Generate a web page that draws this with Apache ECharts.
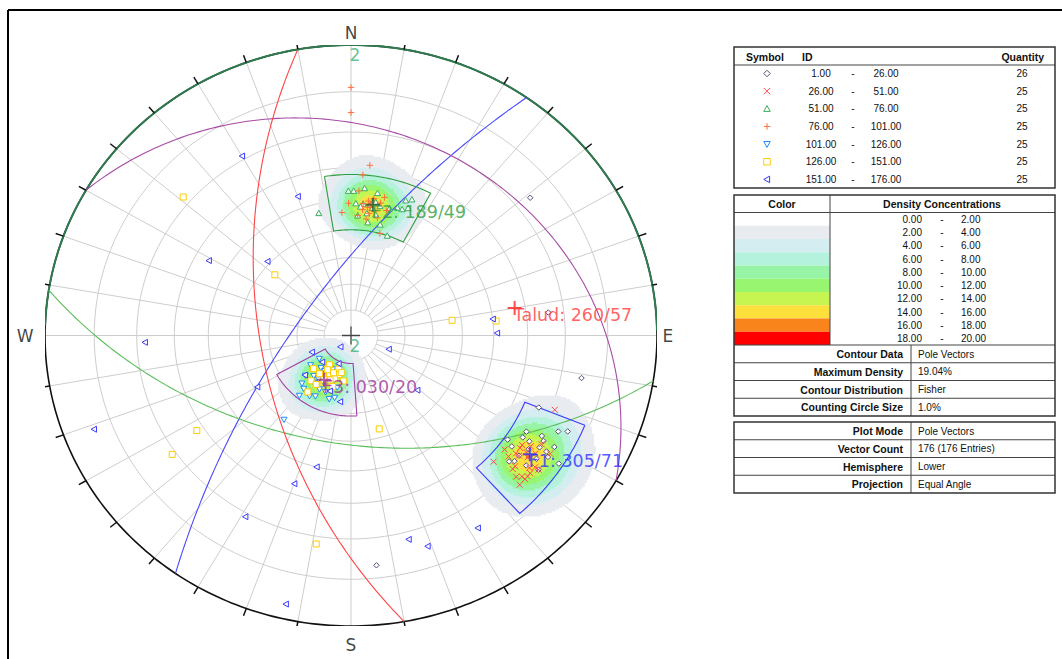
<!DOCTYPE html>
<html>
<head>
<meta charset="utf-8">
<title>Stereonet</title>
<script src="https://cdn.jsdelivr.net/npm/echarts@6/dist/echarts.min.js"></script>
<style>
  html, body { margin: 0; padding: 0; background: #ffffff; }
  #chart { width: 1062px; height: 659px; }
</style>
</head>
<body>
<div id="chart"></div>
<script>
// ---- Pole vectors [trend, plunge] (degrees), grouped by ID range ----
const idFrom = [1, 26, 51, 76, 101, 126, 151];
const idTo = [26, 51, 76, 101, 126, 151, 176];
const quantities = [26, 25, 25, 25, 25, 25, 25];

const poles1 = [[51,16],[83,24],[101,15],[174,13],[112,23],[120,23],[119,19],[115,14],[116,16],[125,26],[122,21],[126,24],[124,20],[122,16],[123,15],[130,22],[129,21],[128,18],[123,12],[122,18],[125,17],[127,21],[120,18],[122,23],[127,15],[120,15]];
const poles2 = [[111,19],[125,22],[127,22],[127,21],[129,23],[133,25],[130,20],[122,15],[132,18],[131,17],[131,16],[130,16],[129,16],[133,16],[125,20],[123,20],[126,19],[124,18],[124,22],[121,18],[131,20],[127,16],[128,17],[128,25],[127,15]];
const poles3 = [[359,37],[1,37],[5,36],[10,37],[8,41],[5,41],[2,41],[9,40],[10,40],[12,41],[4,42],[9,42],[16,41],[21,37],[23,36],[23,39],[21,40],[19,40],[3,45],[8,47],[14,47],[19,50],[346,43],[11,44],[7,44]];
const poles4 = [[0,9],[0,15],[6,29],[4,32],[13,38],[3,37],[356,44],[3,45],[5,41],[8,42],[10,43],[12,40],[11,41],[7,42],[7,46],[15,50],[15,42],[7,40],[9,41],[5,43],[8,41],[9,39],[8,44],[359,41],[12,45]];
const poles5 = [[198,76],[207,75],[221,69],[217,67],[209,69],[209,63],[198,64],[217,50],[206,70],[200,71],[221,73],[209,66],[227,67],[203,66],[194,69],[232,71],[224,64],[232,75],[207,73],[215,69],[215,73],[213,62],[194,65],[219,60],[220,63]];
const poles6 = [[311,18],[310,54],[81,53],[84,39],[237,28],[235,19],[164,53],[215,76],[199,76],[197,74],[208,73],[200,72],[204,71],[220,67],[216,63],[213,74],[194,75],[218,71],[214,67],[210,70],[199,69],[227,71],[189,72],[189,18],[204,74]];
const poles7 = [[330,19],[340,36],[299,34],[313,49],[268,22],[222,84],[111,75],[131,58],[83,40],[89,39],[249,6],[200,33],[209,19],[193,3],[165,18],[148,14],[226,75],[203,78],[194,40],[240,51],[200,67],[228,67],[161,15],[189,64],[246,74]];
const poleGroups = [poles1, poles2, poles3, poles4, poles5, poles6, poles7];

// ---- Planes (dip direction / dip) ----
const planeNames = ['F1', 'F2', 'F3', 'Talud'];
const planeDipDir = [305, 189, 30, 260];
const planeDip = [71, 49, 20, 57];

// ---- Set windows: trend range and plunge range ----
const windowTrendMin = [112, 351, 176];
const windowTrendMax = [138, 388, 241];
const windowPlungeMin = [11, 32, 59];
const windowPlungeMax = [27, 50, 79];

// ---- Density legend ----
const densityLevels = [0, 2, 4, 6, 8, 10, 12, 14, 16, 18, 20];

// ---- Info tables ----
const contourInfoLabels = ['Contour Data', 'Maximum Density', 'Contour Distribution', 'Counting Circle Size'];
const contourInfoValues = ['Pole Vectors', '19.04%', 'Fisher', '1.0%'];
const plotInfoLabels = ['Plot Mode', 'Vector Count', 'Hemisphere', 'Projection'];
const plotInfoValues = ['Pole Vectors', '176 (176 Entries)', 'Lower', 'Equal Angle'];

// ---- Styles ----
// marker outlines in a 10x10 box: [closed, points]
const markerParts = [
  [[true, [[5,0],[10,5],[5,10],[0,5]]]],
  [[false, [[0,0],[10,10]]], [false, [[10,0],[0,10]]]],
  [[true, [[5,0],[10,9],[0,9]]]],
  [[false, [[5,0],[5,10]]], [false, [[0,5],[10,5]]]],
  [[true, [[0,1],[10,1],[5,10]]]],
  [[true, [[0,0],[10,0],[10,10],[0,10]]]],
  [[true, [[0,5],[9,0],[9,10]]]]
];
const symbolPaths = markerParts.map(parts => 'path://' + parts.map(([closed, pts]) =>
  pts.map((p, k) => (k ? 'L' : 'M') + p[0] + ',' + p[1]).join('') + (closed ? 'Z' : '')).join(''));
const symbolColors = ['#5a4f7c', '#ff4a4a', '#38ad5c', '#ff6f3c', '#1f8cff', '#ffcc00', '#3a3aff'];
const symbolFills = ['#ffffff', 'none', '#ffffff', 'none', '#ffffff', '#ffffff', '#ffffff'];
const symbolSizes = [5.5, 6, 6, 6.5, 6, 6, 6];
const densityColors = ['#ffffff', '#e8ecf1', '#d3edf0', '#b5f2dd', '#97f4a6', '#97f56f', '#c6f551', '#fde03c', '#fa841c', '#ff0000'];
const planeColors = ['#4848ff', '#5cbf5c', '#a64ca6', '#ff4444'];
const labelColors = ['#2f2fff', '#2e9e3e', '#993399', '#ff3b3b'];
const poleMarkColors = ['#2f2fff', '#1f5f2f', '#993399', '#ff2020'];
const windowColors = ['#3b3bff', '#2e9e3e', '#a040a0'];

const D = Math.PI / 180;
const FONT = '"DejaVu Sans", Verdana, sans-serif';
const TABLE_FONT = '"Liberation Sans", Arial, sans-serif';

// equal-angle projection, lower hemisphere
function project(trend, plunge) {
  const r = Math.tan((90 - plunge) / 2 * D);
  return [r * Math.sin(trend * D), r * Math.cos(trend * D)];
}
function projectVector(v) {
  const z = Math.max(-1, Math.min(1, v[2]));
  const plunge = Math.asin(Math.max(0, z)) / D;
  const trend = Math.atan2(v[0], v[1]) / D;
  return project(trend, plunge);
}
function greatCircle(dipDir, dip) {
  const s = [Math.sin((dipDir - 90) * D), Math.cos((dipDir - 90) * D), 0];
  const d = [Math.cos(dip * D) * Math.sin(dipDir * D), Math.cos(dip * D) * Math.cos(dipDir * D), Math.sin(dip * D)];
  const pts = [];
  for (let t = 0; t <= 180; t += 1) {
    const c = Math.cos(t * D), sn = Math.sin(t * D);
    pts.push(projectVector([s[0] * c + d[0] * sn, s[1] * c + d[1] * sn, s[2] * c + d[2] * sn]));
  }
  return pts;
}
function ring(r, t0, t1) {
  const pts = [];
  for (let t = t0; t <= t1 + 1e-9; t += 1) pts.push([r * Math.sin(t * D), r * Math.cos(t * D)]);
  return pts;
}
function windowOutline(i) {
  const pts = [];
  const a = windowTrendMin[i], b = windowTrendMax[i];
  for (let t = a; t <= b; t += 1) pts.push(project(t, windowPlungeMin[i]));
  for (let t = b; t >= a; t -= 1) pts.push(project(t, windowPlungeMax[i]));
  pts.push(project(a, windowPlungeMin[i]));
  return pts;
}

// ---- Fisher density of the pole vectors ----
const KAPPA = 85;
const poleVecs = [];
poleGroups.forEach(g => g.forEach(([t, p]) => {
  poleVecs.push([Math.cos(p * D) * Math.sin(t * D), Math.cos(p * D) * Math.cos(t * D), Math.sin(p * D)]);
}));
const NV = poleVecs.length;
function densityAt(x, y) {
  const r = Math.hypot(x, y);
  const pl = Math.PI / 2 - 2 * Math.atan(r);
  const h = Math.cos(pl);
  const vx = r > 0 ? h * x / r : 0, vy = r > 0 ? h * y / r : 0, vz = Math.sin(pl);
  let s = 0;
  for (let k = 0; k < NV; k++) {
    const q = poleVecs[k];
    const c = Math.abs(vx * q[0] + vy * q[1] + vz * q[2]);
    if (c > 0.88) s += Math.exp(KAPPA * (c - 1));
  }
  return KAPPA * s / NV;
}
const STEP = 0.006;
const densityRuns = [];
for (let y = -1 + STEP / 2; y < 1; y += STEP) {
  let cur = 0, x0 = 0;
  for (let x = -1 + STEP / 2; x < 1 + 2 * STEP; x += STEP) {
    let band = 0;
    if (x < 1 && x * x + y * y <= 1) band = Math.min(9, Math.floor(densityAt(x, y) / 2));
    if (band !== cur) {
      if (cur > 0) densityRuns.push([x0 - STEP / 2, x - STEP / 2, y - STEP / 2, y + STEP / 2, cur]);
      cur = band; x0 = x;
    }
  }
}

// ---- Grid lines ----
const gridLines = [];
for (let p = 80; p >= 10; p -= 10) gridLines.push(ring(Math.tan((90 - p) / 2 * D), 0, 360));
const r0 = Math.tan(5 * D);
for (let t = 0; t < 360; t += 10) {
  if (t % 90 === 0) continue;
  gridLines.push([[r0 * Math.sin(t * D), r0 * Math.cos(t * D)], [Math.sin(t * D), Math.cos(t * D)]]);
}
gridLines.push([[0, -1], [0, 1]]);
gridLines.push([[-1, 0], [1, 0]]);

const tickLines = [];
for (let t = 0; t < 360; t += 10) {
  tickLines.push([[Math.sin(t * D), Math.cos(t * D)], [1.027 * Math.sin(t * D), 1.027 * Math.cos(t * D)]]);
}

// ---- Table graphics ----
const G = [];
function txt(x, y, s, o) {
  G.push({ type: 'text', x: x, y: y, silent: true, z: 10,
    style: Object.assign({ text: s, fill: '#111', fontFamily: TABLE_FONT, fontSize: 10, align: 'left', verticalAlign: 'middle' }, o || {}) });
}
const BOLD = { fontWeight: 'bold', fontSize: 10.5 };
function hline(x1, x2, y, w, c) { G.push({ type: 'line', silent: true, z: 10, shape: { x1: x1, y1: y, x2: x2, y2: y }, style: { stroke: c || '#555', lineWidth: w || 1 } }); }
function vline(x, y1, y2, w, c) { G.push({ type: 'line', silent: true, z: 10, shape: { x1: x, y1: y1, x2: x, y2: y2 }, style: { stroke: c || '#555', lineWidth: w || 1 } }); }
function box(x, y, w, h) { G.push({ type: 'rect', silent: true, z: 11, shape: { x: x, y: y, width: w, height: h }, style: { fill: null, stroke: '#333', lineWidth: 1.5 } }); }
function icon(i, cx, cy, size) {
  const k = size / 10;
  markerParts[i].forEach(([closed, pts]) => {
    const p = pts.map(q => [cx - size / 2 + q[0] * k, cy - size / 2 + q[1] * k]);
    G.push({ type: closed ? 'polygon' : 'polyline', silent: true, z: 10, shape: { points: p },
      style: { fill: closed ? symbolFills[i] : null, stroke: symbolColors[i], lineWidth: 1 } });
  });
}

// page frame
hline(8, 1062, 10, 2, '#000');
vline(8, 10, 659, 2, '#000');

// symbol table
const TX0 = 734, TX1 = 1055;
box(TX0, 47, TX1 - TX0, 141);
hline(TX0, TX1, 65, 1, '#444');
txt(765, 56.5, 'Symbol', Object.assign({ align: 'center' }, BOLD));
txt(802, 56.5, 'ID', BOLD);
txt(1044, 56.5, 'Quantity', Object.assign({ align: 'right' }, BOLD));
for (let i = 0; i < idFrom.length; i++) {
  const yc = 73.5 + i * 17.65;
  icon(i, 767, yc, 6.5);
  txt(821, yc, idFrom[i].toFixed(2), { align: 'center' });
  txt(853, yc, '-', { align: 'center' });
  txt(886, yc, idTo[i].toFixed(2), { align: 'center' });
  txt(1022, yc, String(quantities[i]), { align: 'center' });
}

// density table
box(TX0, 195, TX1 - TX0, 221);
hline(TX0, TX1, 212.5, 1, '#444');
vline(830, 195, 345, 1, '#444');
txt(782, 203.5, 'Color', Object.assign({ align: 'center' }, BOLD));
txt(942, 203.5, 'Density Concentrations', Object.assign({ align: 'center' }, BOLD));
for (let i = 0; i < densityColors.length; i++) {
  const y0 = 212.5 + i * 13.25;
  G.push({ type: 'rect', silent: true, z: 9, shape: { x: TX0, y: y0, width: 830 - TX0, height: 13.25 }, style: { fill: densityColors[i] } });
  txt(922, y0 + 6.8, densityLevels[i].toFixed(2), { align: 'right' });
  txt(942, y0 + 6.8, '-', { align: 'center' });
  txt(961, y0 + 6.8, densityLevels[i + 1].toFixed(2), { align: 'left' });
}
hline(TX0, TX1, 345, 1, '#444');
vline(911, 345, 416, 1, '#444');
for (let i = 0; i < contourInfoLabels.length; i++) {
  const y0 = 345 + i * 17.75;
  if (i > 0) hline(TX0, TX1, y0, 1, '#444');
  txt(903, y0 + 9, contourInfoLabels[i], Object.assign({ align: 'right' }, BOLD));
  txt(918, y0 + 9, contourInfoValues[i]);
}

// plot info table
box(TX0, 422, TX1 - TX0, 71);
vline(911, 422, 493, 1, '#444');
for (let i = 0; i < plotInfoLabels.length; i++) {
  const y0 = 422 + i * 17.75;
  if (i > 0) hline(TX0, TX1, y0, 1, '#444');
  txt(903, y0 + 9, plotInfoLabels[i], Object.assign({ align: 'right' }, BOLD));
  txt(918, y0 + 9, plotInfoValues[i]);
}

// ---- Series ----
const series = [];
series.push({ type: 'lines', coordinateSystem: 'cartesian2d', polyline: true, silent: true, z: 1,
  data: gridLines.map(c => ({ coords: c })), lineStyle: { color: '#cdcdcd', width: 1, opacity: 1 } });

series.push({ type: 'custom', coordinateSystem: 'cartesian2d', silent: true, z: 2, data: densityRuns,
  encode: { x: [0, 1], y: [2, 3] },
  renderItem: function (params, api) {
    const a = api.coord([api.value(0), api.value(3)]);
    const b = api.coord([api.value(1), api.value(2)]);
    return { type: 'rect', shape: { x: a[0], y: a[1] - 0.3, width: b[0] - a[0], height: b[1] - a[1] + 0.6 },
      style: { fill: densityColors[api.value(4)] } };
  } });

series.push({ type: 'lines', coordinateSystem: 'cartesian2d', polyline: true, silent: true, z: 3,
  data: [{ coords: ring(1, 0, 360), lineStyle: { color: '#111', width: 1.6 } },
         { coords: ring(1, 272, 449), lineStyle: { color: '#2f7a4e', width: 2 } }]
    .concat(tickLines.map(c => ({ coords: c, lineStyle: { color: '#111', width: 1.5 } }))),
  lineStyle: { opacity: 1 } });

series.push({ type: 'lines', coordinateSystem: 'cartesian2d', polyline: true, silent: true, z: 4,
  data: planeNames.map((n, i) => ({ coords: greatCircle(planeDipDir[i], planeDip[i]), lineStyle: { color: planeColors[i], width: 1.1 } }))
    .concat(windowColors.map((c, i) => ({ coords: windowOutline(i), lineStyle: { color: c, width: 1.1 } }))),
  lineStyle: { opacity: 1 } });

poleGroups.forEach((g, i) => {
  series.push({ type: 'scatter', name: idFrom[i].toFixed(2) + ' - ' + idTo[i].toFixed(2), silent: true, z: 5,
    data: g.map(([t, p]) => project(t, p)),
    symbol: symbolPaths[i], symbolSize: symbolSizes[i], symbolKeepAspect: true,
    itemStyle: { color: symbolFills[i], borderColor: symbolColors[i], borderWidth: 1, opacity: 1 } });
});

// plane poles with their labels
series.push({ type: 'scatter', silent: true, z: 7,
  symbol: 'path://M5,0L5,10M0,5L10,5', symbolSize: 14,
  data: planeNames.map((n, i) => ({
    value: project((planeDipDir[i] + 180) % 360, 90 - planeDip[i]),
    name: n + ': ' + String(planeDipDir[i]).padStart(3, '0') + '/' + planeDip[i],
    itemStyle: { color: 'none', borderColor: poleMarkColors[i], borderWidth: 2 },
    label: { color: labelColors[i] }
  })),
  label: { show: true, formatter: '{b}', position: [8.5, 16.5], align: 'left', verticalAlign: 'middle',
    fontFamily: FONT, fontSize: 17.5 } });

// centre cross
series.push({ type: 'scatter', silent: true, z: 6, symbol: 'path://M5,0L5,10M0,5L10,5', symbolSize: 18,
  data: [[0, 0]], itemStyle: { color: 'none', borderColor: '#222', borderWidth: 1.3 } });

// compass labels
const compassNames = ['N', 'E', 'S', 'W'];
const compassPos = ['top', 'right', 'bottom', 'left'];
const compassDist = [3, 5, 10, 11];
series.push({ type: 'scatter', silent: true, z: 6, symbolSize: 1,
  itemStyle: { color: 'rgba(0,0,0,0)' },
  data: compassNames.map((n, i) => ({
    value: [Math.sin(i * 90 * D), Math.cos(i * 90 * D)], name: n,
    label: { position: compassPos[i], distance: compassDist[i] }
  })),
  label: { show: true, formatter: '{b}', color: '#111', fontFamily: FONT, fontSize: 17 } });

// contour count labels
series.push({ type: 'scatter', silent: true, z: 6, symbolSize: 1,
  itemStyle: { color: 'rgba(0,0,0,0)' },
  data: [{ value: [0, 1], name: '2' }, { value: [0, 0], name: '2' }],
  label: { show: true, formatter: '{b}', position: 'inside', offset: [4, 10], color: '#3fb37a',
    fontFamily: FONT, fontSize: 17 } });

const chart = echarts.init(document.getElementById('chart'), null, { renderer: 'svg', width: 1062, height: 659 });
chart.setOption({
  animation: false,
  backgroundColor: '#ffffff',
  grid: { left: 45, top: 45, width: 612, height: 581, show: false },
  xAxis: { type: 'value', min: -1, max: 1, show: false },
  yAxis: { type: 'value', min: -1, max: 1, show: false },
  graphic: G,
  series: series
});
</script>
</body>
</html>
